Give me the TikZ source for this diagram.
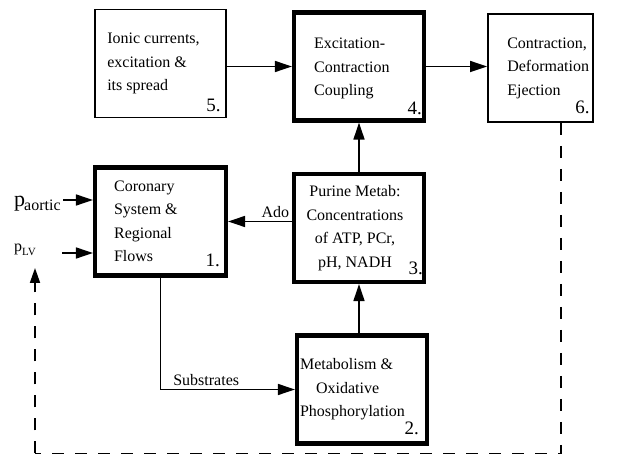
\documentclass[tikz,border=0pt]{standalone}
\usepackage{fontspec}
\setmainfont{Liberation Serif}
\usetikzlibrary{arrows.meta,positioning}

\begin{document}
\begin{tikzpicture}[x=1pt,y=1pt,
  box/.style={rectangle, draw, minimum width=130pt, minimum height=108pt,
              inner sep=0pt, line width=1.8pt},
  bold/.style={line width=4.2pt},
  txt/.style={inner sep=0pt, align=left, font=\fontsize{16}{23.5}\selectfont},
  num/.style={inner sep=0pt, anchor=base east, font=\fontsize{19}{19}\selectfont},
  lbl/.style={inner sep=3pt, font=\fontsize{16}{16}\selectfont},
  arr/.style={-{Triangle[length=17pt,width=11pt]}, line width=1.6pt},
  fb/.style={line width=1.8pt, dash pattern=on 12pt off 11pt},
]
  \useasboundingbox (0,0) rectangle (622,455);

  % blocks
  \node[box, minimum width=131pt] (ionic) at (160.5,391.5) {};
  \node[box, bold] (ecc) at (359,388.5) {};
  \node[box, minimum width=105pt] (contr) at (540.5,387) {};
  \node[box, bold, minimum width=131pt] (coron) at (160.5,233.5) {};
  \node[box, bold] (purine) at (359,227) {};
  \node[box, bold] (metab) at (362,65.5) {};

  % block texts
  \node[txt, anchor=west] (ionicT) at ([xshift=13pt]ionic.west)
    {Ionic currents,\\excitation \&\\its spread};
  \node[txt, anchor=west] (eccT) at ([xshift=22pt,yshift=-2pt]ecc.west)
    {Excitation-\\Contraction\\Coupling};
  \node[txt, anchor=west] (contrT) at ([xshift=20pt]contr.west)
    {Contraction,\\Deformation\\Ejection};
  \node[txt, anchor=west] (coronT) at ([xshift=21pt]coron.west)
    {Coronary\\System \&\\Regional\\Flows};
  \node[txt, align=center] (purineT) at ([xshift=-4pt]purine.center)
    {Purine Metab:\\Concentrations\\of ATP, PCr,\\pH, NADH};
  \node[txt, anchor=west] (metabT) at ([xshift=5pt]metab.west)
    {Metabolism \&\\\hspace*{16pt}Oxidative\\Phosphorylation};

  % block numbers
  \node[num] (n5) at ([xshift=-6pt,yshift=7pt]ionic.south east) {5.};
  \node[num] (n4) at ([xshift=-4pt,yshift=8pt]ecc.south east) {4.};
  \node[num] (n6) at ([xshift=-4pt,yshift=9pt]contr.south east) {6.};
  \node[num] (n1) at ([xshift=-8pt,yshift=11pt]coron.south east) {1.};
  \node[num] (n3) at ([xshift=-3pt,yshift=10pt]purine.south east) {3.};
  \node[num] (n2) at ([xshift=-10pt,yshift=11pt]metab.south east) {2.};

  % pressures
  \node[inner sep=0pt, anchor=base west] (paor) at (14,248)
    {{\fontsize{22}{22}\selectfont p}\kern-1pt\raisebox{-4pt}{\fontsize{16}{16}\selectfont aortic}};
  \node[inner sep=0pt, anchor=base west] (plv) at (14,203)
    {{\fontsize{16}{16}\selectfont p}\raisebox{-4pt}{\fontsize{11}{11}\selectfont LV}};
  \coordinate (paorA) at (63,255);
  \coordinate (plvA) at (62,202);

  % flows
  \draw[arr] (ionic.east |- ecc.west) -- (ecc.west);
  \draw[arr] (ecc.east) -- (ecc.east -| contr.west);
  \draw[arr] (purine.north) -- (ecc.south);
  \draw[arr] (metab.north -| purine.south) -- (purine.south);
  \draw[arr] (purine.west |- coron.east) -- node[lbl, above, pos=0.26] (ado) {Ado} (coron.east);
  \draw[arr] (coron.south) |- node[lbl, above, pos=0.67] (subs) {Substrates} (metab.west);
  \draw[arr] (paorA) -- (paorA -| coron.west);
  \draw[arr] (plvA) -- (plvA -| coron.west);

  % feedback
  \coordinate (fbR) at (561,1.5);
  \coordinate (fbL) at (35,1.5);
  \coordinate (fbTip) at (35,187);
  \draw[fb] (contr.south -| fbR) -- (fbR) -- (fbL);
  \draw[fb, -{Triangle[length=15pt,width=10pt]}] (fbL) -- (fbTip);
\end{tikzpicture}
\end{document}
